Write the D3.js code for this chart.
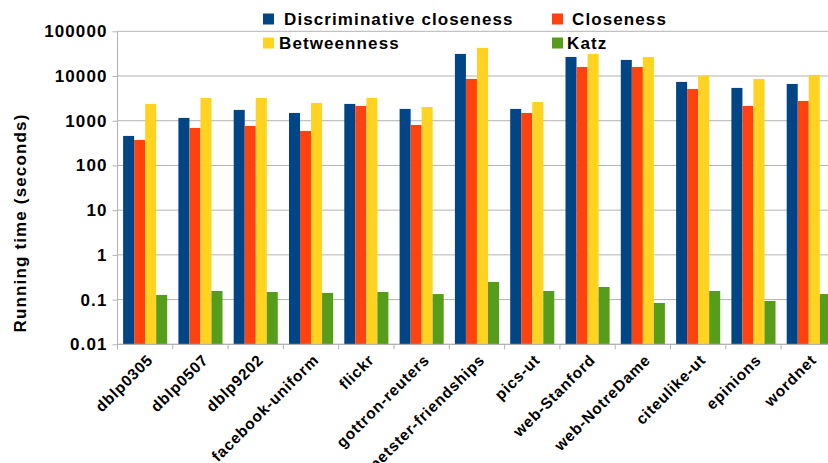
<!DOCTYPE html>
<html>
<head>
<meta charset="utf-8">
<script src="https://cdn.jsdelivr.net/npm/d3@7"></script>
<style>
  body { margin: 0; background: #fff; }
  text { font-family: "Liberation Sans", Arial, sans-serif; font-weight: bold; fill: #000; }
</style>
</head>
<body>
<div id="chart"></div>
<script>
// networks on the x axis
var networks = ["dblp0305", "dblp0507", "dblp9202", "facebook-uniform", "flickr", "gottron-reuters",
  "petster-friendships", "pics-ut", "web-Stanford", "web-NotreDame", "citeulike-ut", "epinions", "wordnet"];

var seriesNames = ["Discriminative closeness", "Closeness", "Betweenness", "Katz"];
var seriesColors = ["#004586", "#ff420e", "#ffd320", "#579d1c"];

// running times in seconds
var discClose = [457, 1156, 1746, 1494, 2377, 1837, 31200, 1837, 26700, 22900, 7380, 5420, 6650];
var closeness = [372, 690, 765, 592, 2140, 806, 8610, 1494, 15960, 15960, 5140, 2140, 2770];
var betweenness = [2377, 3240, 3240, 2500, 3240, 2032, 42560, 2630, 31200, 26700, 10200, 8610, 10570];
var katz = [0.127, 0.156, 0.148, 0.141, 0.148, 0.133, 0.248, 0.156, 0.191, 0.084, 0.156, 0.093, 0.133];

var yTicks = [0.01, 0.1, 1, 10, 100, 1000, 10000, 100000];

var width = 828, height = 463;
var plotLeft = 117.5, plotTop = 31.3, plotBottom = 344.3;
var catW = 55.3;

var svg = d3.select("#chart").append("svg")
  .attr("width", width)
  .attr("height", height);

var x = d3.scaleBand()
  .domain(networks)
  .range([plotLeft, plotLeft + catW * networks.length]);

var x1 = d3.scaleBand()
  .domain(seriesNames)
  .range([5.6, catW - 5.6]);

var y = d3.scaleLog()
  .domain([0.01, 100000])
  .range([plotBottom, plotTop]);

// grid
svg.append("g")
  .selectAll("line")
  .data(yTicks)
  .enter().append("line")
  .attr("x1", plotLeft)
  .attr("x2", width)
  .attr("y1", function(d){ return y(d); })
  .attr("y2", function(d){ return y(d); })
  .style("stroke", "#b3b3b3")
  .style("stroke-width", 1);

// bars
var allSeries = [discClose, closeness, betweenness, katz];
allSeries.forEach(function(vals, si){
  svg.append("g")
    .selectAll("rect")
    .data(vals)
    .enter().append("rect")
    .attr("x", function(d, i){ return x(networks[i]) + x1(seriesNames[si]); })
    .attr("width", x1.bandwidth())
    .attr("y", function(d){ return y(d); })
    .attr("height", function(d){ return plotBottom - y(d); })
    .style("fill", seriesColors[si]);
});

// y axis
var yAxis = d3.axisLeft(y)
  .tickValues(yTicks)
  .tickSize(5)
  .tickPadding(5)
  .tickFormat(function(d){ return String(d); });

var yg = svg.append("g")
  .attr("transform", "translate(" + plotLeft + ",0)")
  .call(yAxis);
yg.select(".domain").attr("d", "M0," + plotTop + "V" + (plotBottom + 5)).style("stroke", "#b3b3b3");
yg.selectAll(".tick line").style("stroke", "#b3b3b3");
yg.selectAll("text")
  .style("font-size", "17px")
  .style("letter-spacing", "1.1px")
  .style("fill", "#000");

// x axis baseline and boundary ticks
svg.append("line")
  .attr("x1", plotLeft).attr("x2", width)
  .attr("y1", plotBottom).attr("y2", plotBottom)
  .style("stroke", "#b3b3b3");

var bounds = networks.map(function(c){ return x(c); });
bounds.push(x(networks[networks.length - 1]) + x.bandwidth());
svg.append("g")
  .selectAll("line")
  .data(bounds)
  .enter().append("line")
  .attr("x1", function(d){ return d; })
  .attr("x2", function(d){ return d; })
  .attr("y1", plotBottom)
  .attr("y2", plotBottom + 5)
  .style("stroke", "#b3b3b3");

// x labels
svg.append("g")
  .selectAll("text")
  .data(networks)
  .enter().append("text")
  .attr("transform", function(d){
    return "translate(" + (x(d) + x.bandwidth() / 2 + 1) + "," + (plotBottom + 9) + ") rotate(-45)";
  })
  .attr("text-anchor", "end")
  .attr("dy", "0.7em")
  .style("font-size", "15.5px")
  .style("letter-spacing", "0.8px")
  .text(function(d){ return d; });

// y title
svg.append("text")
  .attr("transform", "translate(26,223) rotate(-90)")
  .attr("text-anchor", "middle")
  .style("font-size", "17px")
  .style("letter-spacing", "1.15px")
  .text("Running time (seconds)");

// legend
var legendPos = [
  { mx: 263, tx: 284, cy: 19 },
  { mx: 552, tx: 572, cy: 19 },
  { mx: 263, tx: 279, cy: 43 },
  { mx: 552, tx: 567, cy: 43 }
];
var lg = svg.append("g");
seriesNames.forEach(function(name, i){
  var p = legendPos[i];
  lg.append("rect")
    .attr("x", p.mx).attr("y", p.cy - 5.5)
    .attr("width", 11).attr("height", 11)
    .style("fill", seriesColors[i]);
  lg.append("text")
    .attr("x", p.tx).attr("y", p.cy)
    .attr("dy", "0.36em")
    .style("font-size", "17px")
    .style("letter-spacing", "1.1px")
    .text(name);
});
</script>
</body>
</html>
